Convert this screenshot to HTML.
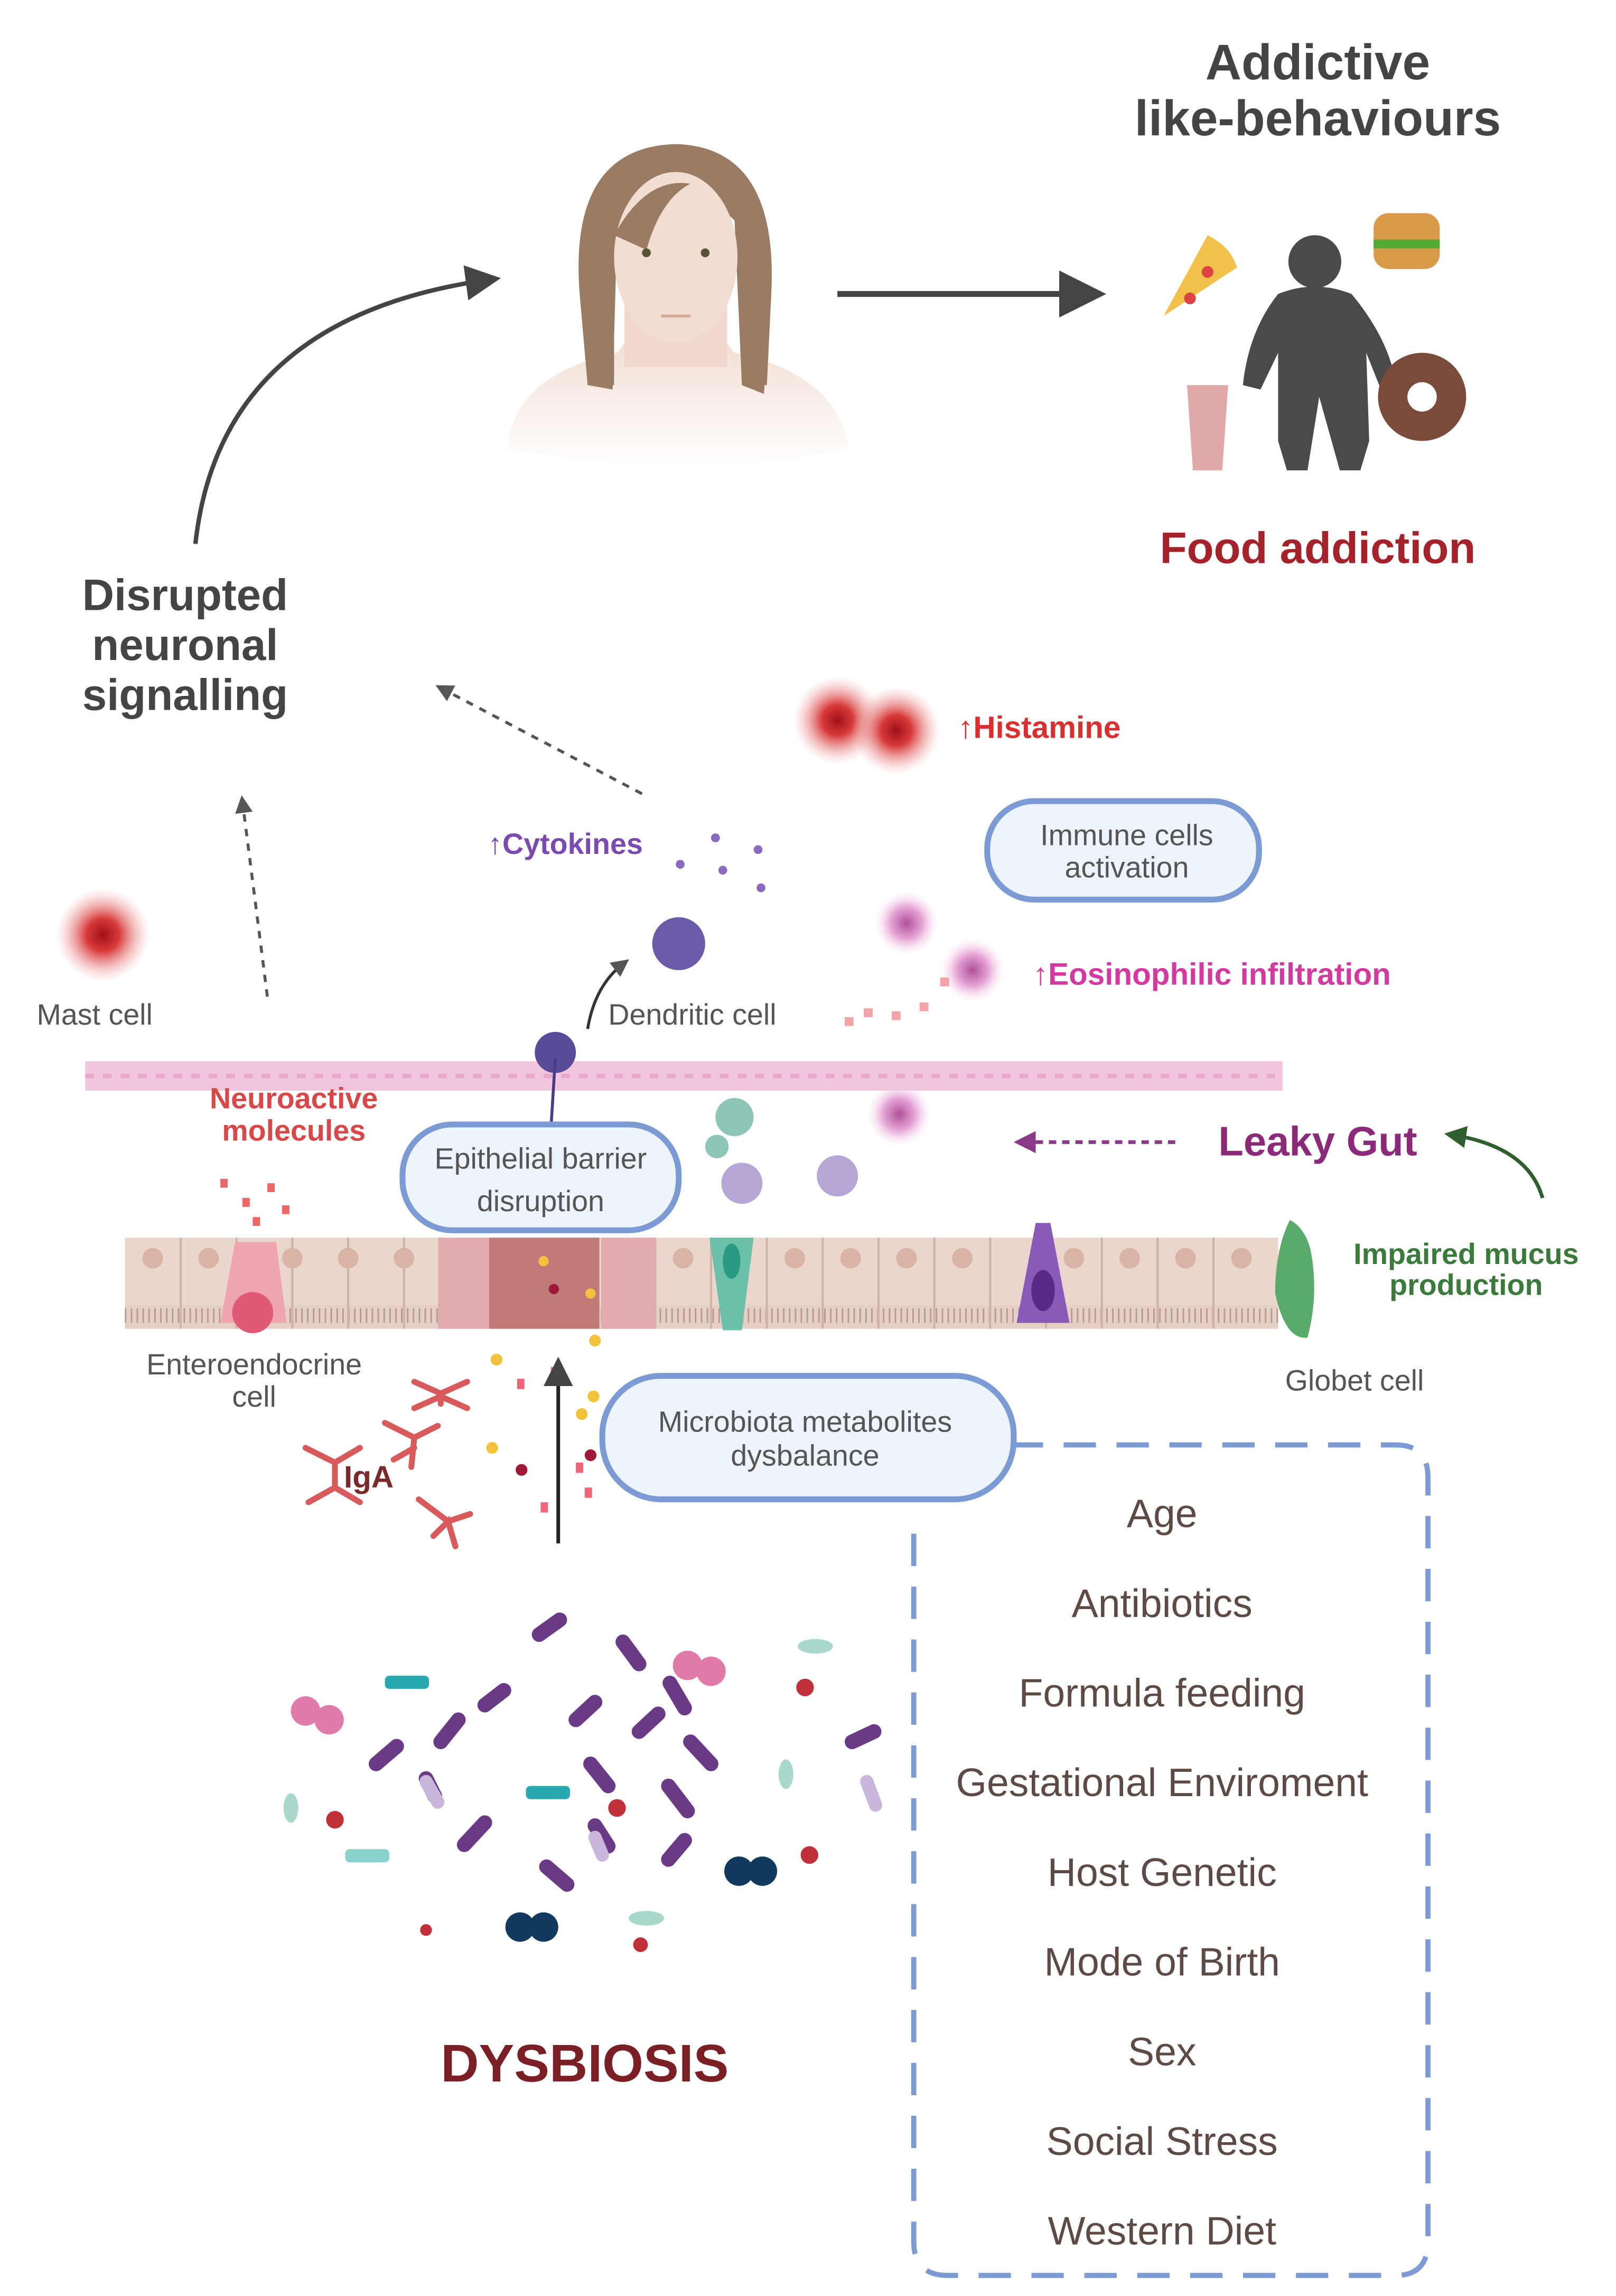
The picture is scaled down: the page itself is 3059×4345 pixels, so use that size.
<!DOCTYPE html>
<html><head><meta charset="utf-8"><style>
html,body{margin:0;padding:0;background:#fff}
svg{display:block}
text{font-family:"Liberation Sans",sans-serif}
</style></head><body>
<svg width="3059" height="4345" viewBox="0 0 1100 1562" preserveAspectRatio="none" xmlns="http://www.w3.org/2000/svg">
<defs>
<marker id="ah" markerWidth="8" markerHeight="8" refX="6" refY="4" orient="auto" markerUnits="strokeWidth"><path d="M0,0 L8,4 L0,8 z" fill="#444"/></marker>
<marker id="ahs" markerWidth="6" markerHeight="6" refX="4" refY="3" orient="auto"><path d="M0,0 L6,3 L0,6 z" fill="#555"/></marker>
<marker id="ahp" markerWidth="6" markerHeight="6" refX="4" refY="3" orient="auto"><path d="M0,0 L6,3 L0,6 z" fill="#8a3a86"/></marker>
<marker id="ahg" markerWidth="6" markerHeight="6" refX="4" refY="3" orient="auto"><path d="M0,0 L6,3 L0,6 z" fill="#2f5e2f"/></marker>
<radialGradient id="red"><stop offset="0" stop-color="#a01018"/><stop offset="0.35" stop-color="#d83a3a"/><stop offset="1" stop-color="#f3b0b0" stop-opacity="0"/></radialGradient>
<radialGradient id="eos"><stop offset="0" stop-color="#b0509a"/><stop offset="0.5" stop-color="#e6a6d6"/><stop offset="1" stop-color="#fbe6f4" stop-opacity="0"/></radialGradient>
<linearGradient id="skin" x1="0" y1="0" x2="0" y2="1"><stop offset="0" stop-color="#f0d8cc"/><stop offset="1" stop-color="#fff"/></linearGradient>
</defs>

<text x="897" y="54" font-size="34" font-weight="bold" fill="#444" text-anchor="middle">Addictive</text>
<text x="897" y="92" font-size="34" font-weight="bold" fill="#444" text-anchor="middle">like-behaviours</text>
<text x="897" y="383" font-size="30" font-weight="bold" fill="#a6222a" text-anchor="middle">Food addiction</text>
<text x="126" y="415" font-size="30" font-weight="bold" fill="#444" text-anchor="middle">Disrupted</text>
<text x="126" y="449" font-size="30" font-weight="bold" fill="#444" text-anchor="middle">neuronal</text>
<text x="126" y="483" font-size="30" font-weight="bold" fill="#444" text-anchor="middle">signalling</text>

<!-- person -->
<path d="M345,305 Q350,255 420,240 L440,215 L480,215 L500,240 Q570,255 578,305 Q470,330 345,305z" fill="url(#skin)"/>
<rect x="425" y="190" width="70" height="60" fill="#f0d8cc"/>
<path d="M395,205 Q385,100 460,98 Q530,100 525,200 L520,268 L505,262 L500,150 Q470,120 420,160 L417,265 L400,262z" fill="#9a7c64"/>
<ellipse cx="460" cy="175" rx="42" ry="58" fill="#f2ddd2"/>
<path d="M418,160 Q440,120 470,125 Q450,135 440,170z" fill="#9a7c64"/>
<path d="M418,150 L418,262 L400,262 L396,200z" fill="#9a7c64"/>
<path d="M502,150 L506,262 L522,262 L525,200z" fill="#9a7c64"/>
<circle cx="440" cy="172" r="3" fill="#553"/><circle cx="480" cy="172" r="3" fill="#553"/>
<path d="M450,215 L470,215" stroke="#d4aa9a" stroke-width="2"/>

<path d="M133,370 Q150,215 335,190" fill="none" stroke="#444" stroke-width="3" marker-end="url(#ah)"/>
<path d="M570,200 L745,200" stroke="#444" stroke-width="4" marker-end="url(#ah)"/>

<!-- obese figure & food -->
<circle cx="895" cy="178" r="18" fill="#4a4a4a"/>
<path d="M870,200 Q895,190 920,200 Q945,230 950,260 L940,265 L930,240 L932,300 L926,320 L912,320 L898,270 L890,320 L876,320 L870,300 L870,240 L858,265 L846,262 Q850,225 870,200z" fill="#4a4a4a"/>
<path d="M792,215 L822,160 Q838,168 842,182z" fill="#f2c14a"/>
<circle cx="822" cy="185" r="4" fill="#d44"/><circle cx="810" cy="203" r="4" fill="#d44"/>
<rect x="935" y="145" width="45" height="38" rx="10" fill="#d99a4a"/><rect x="935" y="163" width="45" height="6" fill="#5a3"/>
<circle cx="968" cy="270" r="30" fill="#7a4a3a"/><circle cx="968" cy="270" r="10" fill="#fff"/>
<path d="M808,262 L836,262 L832,320 L812,320z" fill="#e0a8a8"/>

<circle cx="570" cy="490" r="30" fill="url(#red)"/><circle cx="610" cy="497" r="30" fill="url(#red)"/>
<circle cx="70" cy="636" r="32" fill="url(#red)"/>
<text x="652" y="502" font-size="21" font-weight="bold" fill="#d83030">↑Histamine</text>
<text x="332" y="581" font-size="20" font-weight="bold" fill="#7a4ab0">↑Cytokines</text>
<text x="703" y="670" font-size="21" font-weight="bold" fill="#d23aa0">↑Eosinophilic infiltration</text>
<text x="25" y="697" font-size="20" fill="#555">Mast cell</text>
<text x="414" y="697" font-size="20" fill="#555">Dendritic  cell</text>
<circle cx="463" cy="588" r="3" fill="#8a6ac0"/><circle cx="487" cy="570" r="3" fill="#8a6ac0"/><circle cx="492" cy="592" r="3" fill="#8a6ac0"/><circle cx="516" cy="578" r="3" fill="#8a6ac0"/><circle cx="518" cy="604" r="3" fill="#8a6ac0"/>
<circle cx="462" cy="642" r="18" fill="#6a5aa8"/>
<circle cx="617" cy="628" r="22" fill="url(#eos)"/><circle cx="662" cy="660" r="22" fill="url(#eos)"/><circle cx="612" cy="758" r="22" fill="url(#eos)"/>
<g fill="#f3a2a8"><rect x="588" y="686" width="6" height="6"/><rect x="607" y="688" width="6" height="6"/><rect x="626" y="682" width="6" height="6"/><rect x="640" y="665" width="6" height="6"/><rect x="575" y="692" width="6" height="6"/></g>

<rect x="672" y="545" width="185" height="67" rx="32" fill="#eef4fc" stroke="#7c9bd4" stroke-width="4"/>
<text x="767" y="575" font-size="20" fill="#555" text-anchor="middle">Immune cells</text>
<text x="767" y="597" font-size="20" fill="#555" text-anchor="middle">activation</text>

<path d="M437,540 L300,468" stroke="#555" stroke-width="2" stroke-dasharray="5,5" fill="none" marker-end="url(#ahs)"/>
<path d="M182,678 L165,545" stroke="#555" stroke-width="2" stroke-dasharray="5,5" fill="none" marker-end="url(#ahs)"/>
<path d="M400,700 Q405,670 425,655" stroke="#333" stroke-width="2" fill="none" marker-end="url(#ahs)"/>

<rect x="58" y="722" width="815" height="20" fill="#f2c6de"/>
<path d="M58,732 L873,732" stroke="#e7a9cb" stroke-width="3" stroke-dasharray="6,6"/>
<circle cx="378" cy="716" r="14" fill="#5a4a9a"/>
<path d="M378,720 L373,800" stroke="#4a3a8a" stroke-width="2"/>

<text x="200" y="754" font-size="20" font-weight="bold" fill="#d84848" text-anchor="middle">Neuroactive</text>
<text x="200" y="776" font-size="20" font-weight="bold" fill="#d84848" text-anchor="middle">molecules</text>
<g fill="#e66"><rect x="150" y="802" width="5" height="6"/><rect x="165" y="815" width="5" height="6"/><rect x="182" y="805" width="5" height="6"/><rect x="172" y="828" width="5" height="6"/><rect x="192" y="820" width="5" height="6"/></g>

<rect x="274" y="765" width="188" height="72" rx="34" fill="#eef4fc" stroke="#7c9bd4" stroke-width="4"/>
<text x="368" y="795" font-size="20" fill="#555" text-anchor="middle">Epithelial barrier</text>
<text x="368" y="824" font-size="20" fill="#555" text-anchor="middle">disruption</text>

<circle cx="500" cy="760" r="13" fill="#8fc4b8"/><circle cx="488" cy="780" r="8" fill="#8fc4b8"/>
<circle cx="505" cy="805" r="14" fill="#b6a6d6"/><circle cx="570" cy="800" r="14" fill="#b6a6d6"/>

<text x="897" y="786" font-size="28" font-weight="bold" fill="#8a2a78" text-anchor="middle">Leaky Gut</text>
<path d="M800,777 L695,777" stroke="#8a3a86" stroke-width="2.5" stroke-dasharray="5,4" marker-end="url(#ahp)"/>
<path d="M1050,815 Q1040,780 988,772" stroke="#2f5e2f" stroke-width="2.5" fill="none" marker-end="url(#ahg)"/>
<text x="998" y="860" font-size="20" font-weight="bold" fill="#3a7a3a" text-anchor="middle">Impaired mucus</text>
<text x="998" y="881" font-size="20" font-weight="bold" fill="#3a7a3a" text-anchor="middle">production</text>

<rect x="85" y="842" width="785" height="46" fill="#ead6cc"/>
<rect x="85" y="888" width="785" height="16" fill="#e5cfc6"/>
<path d="M85,895 H870" stroke="#b49a90" stroke-width="10" stroke-dasharray="1,3"/>
<g stroke="#cdb3a8" stroke-width="1.5">
<path d="M123,842V904M161,842V904M199,842V904M237,842V904M275,842V904M299,842V904M333,842V904M370,842V904M410,842V904M446,842V904M484,842V904M522,842V904M560,842V904M598,842V904M636,842V904M674,842V904M712,842V904M750,842V904M788,842V904M826,842V904"/>
</g>
<g fill="#d9b3a6"><circle cx="104" cy="856" r="7"/><circle cx="142" cy="856" r="7"/><circle cx="199" cy="856" r="7"/><circle cx="237" cy="856" r="7"/><circle cx="275" cy="856" r="7"/><circle cx="465" cy="856" r="7"/><circle cx="541" cy="856" r="7"/><circle cx="579" cy="856" r="7"/><circle cx="617" cy="856" r="7"/><circle cx="655" cy="856" r="7"/><circle cx="731" cy="856" r="7"/><circle cx="769" cy="856" r="7"/><circle cx="807" cy="856" r="7"/><circle cx="845" cy="856" r="7"/></g>
<rect x="299" y="842" width="34" height="62" fill="#e3aab0"/><rect x="333" y="842" width="37" height="62" fill="#c07a78"/><rect x="370" y="842" width="38" height="62" fill="#c07a78"/><rect x="410" y="842" width="36" height="62" fill="#e3aab0"/>
<path d="M160,845 L188,845 L195,900 L150,900z" fill="#f0a3b0"/><circle cx="172" cy="893" r="14" fill="#e05a78"/>
<path d="M483,842 L513,842 L505,905 L492,905z" fill="#6ac0a8"/><ellipse cx="498" cy="858" rx="6" ry="12" fill="#2a9a80"/>
<path d="M705,832 L715,832 L728,900 L692,900z" fill="#8a5ab8"/><ellipse cx="710" cy="878" rx="8" ry="14" fill="#5a2a88"/>
<path d="M878,830 Q868,850 868,880 Q875,912 890,910 Q898,880 892,850 Q888,835 878,830z" fill="#5aaa6a"/>
<g fill="#f2c23a"><circle cx="370" cy="858" r="3.5"/><circle cx="402" cy="880" r="3.5"/><circle cx="405" cy="912" r="4"/><circle cx="338" cy="925" r="4"/><circle cx="404" cy="950" r="4"/><circle cx="335" cy="985" r="4"/><circle cx="396" cy="962" r="4"/></g>
<g fill="#a01838"><circle cx="377" cy="877" r="3.5"/><circle cx="355" cy="1000" r="4"/><circle cx="402" cy="990" r="4"/></g>
<g fill="#e67"><rect x="352" y="938" width="5" height="7"/><rect x="375" y="930" width="5" height="7"/><rect x="392" y="995" width="5" height="7"/><rect x="368" y="1022" width="5" height="7"/><rect x="398" y="1012" width="5" height="7"/></g>
<path d="M380,1050 L380,928" stroke="#222" stroke-width="2.5" marker-end="url(#ah)"/>

<text x="173" y="935" font-size="20" fill="#555" text-anchor="middle">Enteroendocrine</text>
<text x="173" y="957" font-size="20" fill="#555" text-anchor="middle">cell</text>
<text x="922" y="946" font-size="20" fill="#555" text-anchor="middle">Globet cell</text>

<g stroke="#d85a5a" stroke-width="4" fill="none" stroke-linecap="round">
<path d="M282,940 L300,948 L318,940 M300,948 L300,955 M282,958 L300,950 L318,958"/>
<path d="M262,968 L282,978 L298,970 M282,978 L280,998 M268,993 L282,985"/>
<path d="M208,985 L228,995 L245,985 M228,995 L228,1010 M210,1022 L228,1012 L245,1022"/>
<path d="M285,1020 L305,1035 L320,1030 M295,1045 L305,1035 L310,1052"/>
</g>
<text x="251" y="1012" font-size="21" font-weight="bold" fill="#7a2a2a" text-anchor="middle">IgA</text>

<path d="M688,983 L950,983 Q972,983 972,1005 L972,1525 Q972,1548 950,1548 L645,1548 Q622,1548 622,1525 L622,1040" fill="none" stroke="#7c9bd4" stroke-width="3.5" stroke-dasharray="22,14"/>
<rect x="410" y="936" width="280" height="84" rx="40" fill="#eef4fc" stroke="#7c9bd4" stroke-width="4"/>
<text x="548" y="974" font-size="20" fill="#555" text-anchor="middle">Microbiota metabolites</text>
<text x="548" y="997" font-size="20" fill="#555" text-anchor="middle">dysbalance</text>
<g font-size="27" fill="#5e4a44" text-anchor="middle">
<text x="791" y="1039">Age</text>
<text x="791" y="1100">Antibiotics</text>
<text x="791" y="1161">Formula feeding</text>
<text x="791" y="1222">Gestational Enviroment</text>
<text x="791" y="1283">Host Genetic</text>
<text x="791" y="1344">Mode of Birth</text>
<text x="791" y="1405">Sex</text>
<text x="791" y="1466">Social Stress</text>
<text x="791" y="1527">Western Diet</text>
</g>

<g stroke="#6a3a86" stroke-width="10" stroke-linecap="round">
<path d="M367,1112 L381,1102 M424,1117 L435,1132 M392,1170 L405,1158 M456,1145 L466,1162 M300,1185 L312,1170 M256,1200 L270,1188 M402,1200 L414,1215 M435,1178 L448,1166 M470,1185 L484,1200 M455,1215 L468,1232 M316,1255 L330,1240 M372,1270 L386,1282 M405,1242 L414,1256 M455,1265 L466,1252 M290,1210 L296,1222 M330,1160 L343,1150 M580,1185 L595,1178"/>
</g>
<g stroke="#c9b6dc" stroke-width="9" stroke-linecap="round"><path d="M290,1212 L298,1226 M590,1212 L596,1228 M405,1250 L410,1262"/></g>
<g fill="#2aa8b0"><rect x="262" y="1140" width="30" height="9" rx="3"/><rect x="358" y="1215" width="30" height="9" rx="3"/><rect x="235" y="1258" width="30" height="9" rx="3" fill="#8ad0cc"/></g>
<g fill="#e07aa8"><circle cx="208" cy="1164" r="10"/><circle cx="224" cy="1170" r="10"/><circle cx="468" cy="1133" r="10"/><circle cx="484" cy="1137" r="10"/></g>
<g fill="#123a5e"><circle cx="503" cy="1273" r="10"/><circle cx="519" cy="1273" r="10"/><circle cx="354" cy="1311" r="10"/><circle cx="370" cy="1311" r="10"/></g>
<g fill="#c03038"><circle cx="548" cy="1148" r="6"/><circle cx="228" cy="1238" r="6"/><circle cx="420" cy="1230" r="6"/><circle cx="551" cy="1262" r="6"/><circle cx="436" cy="1323" r="5"/><circle cx="290" cy="1313" r="4"/></g>
<g fill="#a8d8cc"><ellipse cx="198" cy="1230" rx="5" ry="10"/><ellipse cx="535" cy="1207" rx="5" ry="10"/><ellipse cx="555" cy="1120" rx="12" ry="5"/><ellipse cx="440" cy="1305" rx="12" ry="5"/></g>

<text x="398" y="1416" font-size="36" font-weight="bold" fill="#7a1f24" text-anchor="middle">DYSBIOSIS</text>
</svg>
</body></html>
